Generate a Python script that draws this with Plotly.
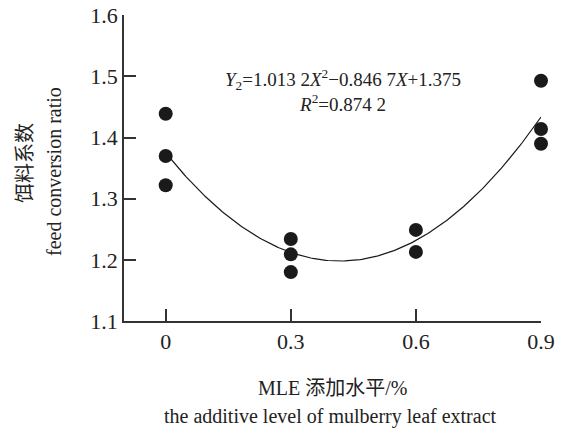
import numpy as np
import plotly.graph_objects as go

# Data
x_levels = [0, 0, 0, 0.3, 0.3, 0.3, 0.6, 0.6, 0.9, 0.9, 0.9]
fcr = [1.439, 1.370, 1.322, 1.234, 1.209, 1.180, 1.249, 1.213, 1.493, 1.414, 1.390]
fit_coef = [1.0132, -0.8467, 1.375]  # a, b, c of Y = aX^2 + bX + c
x_ticks = [0, 0.3, 0.6, 0.9]
x_tick_labels = ["0", "0.3", "0.6", "0.9"]
y_ticks = [1.1, 1.2, 1.3, 1.4, 1.5, 1.6]
y_tick_labels = ["1.1", "1.2", "1.3", "1.4", "1.5", "1.6"]

FONT = "'Liberation Serif', 'Noto Sans CJK SC', serif"
INK = "#1a1a1a"
AXIS = "#333333"
TXT = "#222222"

# the page adds an 8px body margin, so the figure is drawn 8px smaller
OFF = 8
W, H = 563 - OFF, 428 - OFF
# plot-area geometry (px, screen coordinates) used to place the titles
L, R, T, B = 124, 541, 15, 321
PW, PH = R - L, B - T


def px2paper(px, py):
    return (px - L) / PW, (B - py) / PH


xs = np.linspace(0, 0.9, 200)
ys = np.polyval(fit_coef, xs)

fig = go.Figure()
fig.add_trace(go.Scatter(x=xs, y=ys, mode="lines",
                         line=dict(color=INK, width=1.2),
                         hoverinfo="skip", showlegend=False, cliponaxis=False))
fig.add_trace(go.Scatter(x=x_levels, y=fcr, mode="markers",
                         marker=dict(color=INK, size=14),
                         showlegend=False, cliponaxis=False))

fig.update_layout(
    width=W, height=H,
    margin=dict(l=L - OFF, r=563 - R, t=T - OFF, b=428 - B),
    paper_bgcolor="white", plot_bgcolor="white",
    font=dict(family=FONT, color=TXT, size=20),
    xaxis=dict(range=[-0.1, 0.9], tickvals=x_ticks, ticktext=x_tick_labels,
               showline=True, linecolor=AXIS, linewidth=1.5,
               ticks="inside", ticklen=12, tickwidth=1.5, tickcolor=AXIS,
               showgrid=False, zeroline=False, automargin=False,
               ticklabeloverflow="allow",
               tickfont=dict(size=22, family=FONT, color=TXT)),
    yaxis=dict(range=[1.1, 1.6005], tickvals=y_ticks, ticktext=y_tick_labels,
               showline=True, linecolor=AXIS, linewidth=1.5,
               ticks="inside", ticklen=12, tickwidth=1.5, tickcolor=AXIS,
               showgrid=False, zeroline=False, automargin=False,
               ticklabeloverflow="allow",
               tickfont=dict(size=22, family=FONT, color=TXT)),
)

fig.add_annotation(
    x=0.425, y=1.477, xref="x", yref="y", showarrow=False,
    text="<i>Y</i><sub>2</sub>=1.013 2<i>X</i><sup>2</sup>\u22120.846 7<i>X</i>+1.375<br><i>R</i><sup>2</sup>=0.874 2",
    font=dict(size=19, family=FONT, color=TXT), align="center",
    xanchor="center", yanchor="middle")

# Axis titles
for text, (cx, cy), ang in [
    ("MLE 添加水平/%", (332.5, 388), 0),
    ("the additive level of mulberry leaf extract", (330, 416), 0),
    ("饵料系数", (25, 163), -90),
    ("feed conversion ratio", (54, 172), -90),
]:
    ax, ay = px2paper(cx, cy)
    fig.add_annotation(x=ax, y=ay, xref="paper", yref="paper", showarrow=False,
                       text=text, textangle=ang,
                       font=dict(size=20, family=FONT, color=TXT),
                       xanchor="center", yanchor="middle")

fig.write_html("out.html")
